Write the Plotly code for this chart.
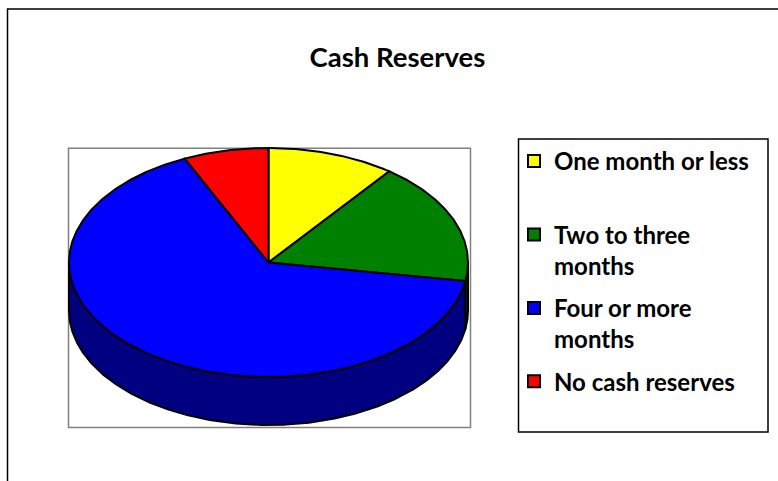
import numpy as np
import plotly.graph_objects as go

# ---- data ----
categories = ["One month or less", "Two to three months", "Four or more months", "No cash reserves"]
counts = [3, 5, 19, 2]
legend_labels = ["One month or less<br> ", "Two to three<br>months", "Four or more<br>months", "No cash reserves"]
top_colors = ["#FFFF00", "#008000", "#0000FF", "#FF0000"]
side_colors = ["#808000", "#004000", "#000080", "#800000"]
title_text = "Cash Reserves"

# ---- layout constants (pixels) ----
W, H = 778, 481
CX, CY = 268.5, 262.5
RX, RY, DEPTH = 199.5, 114.5, 48
FONT = "Lato"

vals = np.array(counts, dtype=float)
frac = vals / vals.sum()
edges = np.concatenate([[0.0], np.cumsum(frac)]) * 2 * np.pi


def top_pt(t):
    return CX + RX * np.sin(t), CY - RY * np.cos(t)


fig = go.Figure()

# sides (front half only: angles between 90 and 270 deg)
for i in range(len(vals)):
    a, b = edges[i], edges[i + 1]
    s, e = max(a, np.pi / 2), min(b, 3 * np.pi / 2)
    if e <= s:
        continue
    t = np.linspace(s, e, max(int((e - s) * 120), 4))
    xt, yt = top_pt(t)
    xs = np.concatenate([xt, xt[::-1], xt[:1]])
    ys = np.concatenate([yt, yt[::-1] + DEPTH, yt[:1]])
    fig.add_trace(go.Scatter(x=xs, y=ys, mode="lines", fill="toself",
                             fillcolor=side_colors[i],
                             line=dict(color="black", width=2),
                             showlegend=False, hoverinfo="skip"))

# top faces
for i in range(len(vals)):
    a, b = edges[i], edges[i + 1]
    t = np.linspace(a, b, max(int((b - a) * 120), 4))
    xt, yt = top_pt(t)
    xs = np.concatenate([[CX], xt, [CX]])
    ys = np.concatenate([[CY], yt, [CY]])
    fig.add_trace(go.Scatter(x=xs, y=ys, mode="lines", fill="toself",
                             fillcolor=top_colors[i],
                             line=dict(color="black", width=2),
                             showlegend=False, name=categories[i],
                             hovertemplate=f"{categories[i]}: {counts[i]}<extra></extra>"))

# legend entries
for i in range(len(vals)):
    fig.add_trace(go.Scatter(x=[None], y=[None], mode="markers",
                             marker=dict(symbol="square", size=16, color=top_colors[i],
                                         line=dict(color="black", width=1)),
                             name=legend_labels[i], legendgroup=str(i), showlegend=True))

shapes = [
    # outer chart border
    dict(type="rect", xref="paper", yref="paper", x0=7.5 / W, x1=1.05, y0=-0.05, y1=1 - 9 / H,
         line=dict(color="black", width=1.5), layer="below"),
    # plot area box
    dict(type="rect", xref="paper", yref="paper", x0=68.5 / W, x1=470.5 / W,
         y0=1 - 427.5 / H, y1=1 - 148.3 / H, line=dict(color="#808080", width=1.5), layer="below"),
    # legend box
    dict(type="rect", xref="paper", yref="paper", x0=518.5 / W, x1=768 / W,
         y0=1 - 432 / H, y1=1 - 139 / H, line=dict(color="black", width=1.5), layer="below"),
]

fig.update_layout(
    width=W, height=H,
    margin=dict(l=0, r=0, t=0, b=0),
    paper_bgcolor="white", plot_bgcolor="rgba(0,0,0,0)",
    title=dict(text=title_text, x=397.5 / W, y=1 - 57 / H, xanchor="center", yanchor="middle",
               font=dict(family=FONT, size=27.5, color="black", weight="bold")),
    xaxis=dict(range=[0, W], visible=False, domain=[0, 1], fixedrange=True),
    yaxis=dict(range=[H, 0], visible=False, domain=[0, 1], fixedrange=True),
    showlegend=True,
    legend=dict(x=514 / W, y=1 - 139 / H, xanchor="left", yanchor="top",
                font=dict(family=FONT, size=24, color="black", weight="bold"),
                bgcolor="rgba(0,0,0,0)", borderwidth=0, tracegroupgap=8,
                valign="top", itemsizing="constant", traceorder="grouped"),
    shapes=shapes,
)

fig.write_html("out.html")
